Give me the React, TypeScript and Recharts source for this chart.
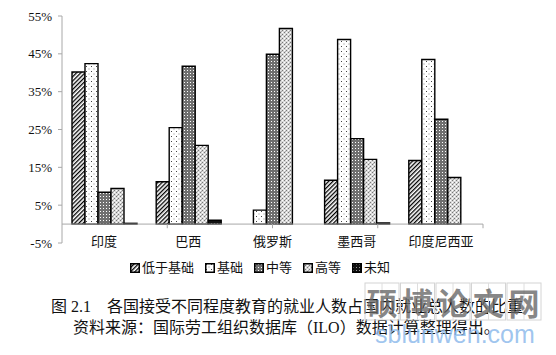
import React from 'react';
import { BarChart, Bar, XAxis, YAxis, ReferenceLine, Legend } from 'recharts';

const countries = ['印度', '巴西', '俄罗斯', '墨西哥', '印度尼西亚'];
const seriesNames = ['低于基础', '基础', '中等', '高等', '未知'];
const belowBasic = [40.2, 11.2, 0, 11.6, 16.8];
const basic = [42.4, 25.5, 3.7, 48.8, 43.5];
const secondary = [8.4, 41.7, 44.9, 22.6, 27.7];
const higher = [9.4, 20.8, 51.7, 17.1, 12.3];
const unknown = [0.2, 1.0, 0, 0.3, 0];
const yTicks = [-5, 5, 15, 25, 35, 45, 55];
const captionTitle = '图 2.1';
const captionText = '各国接受不同程度教育的就业人数占国内就业总人数的比重';
const sourceText = '资料来源：国际劳工组织数据库（ILO）数据计算整理得出。';
const watermarkChars = ['硕', '博', '论', '文', '网'];
const watermarkUrl = 'sblunwen.com';

const seriesValues = [belowBasic, basic, secondary, higher, unknown];
const keys = ['s0', 's1', 's2', 's3', 's4'];
const fills = ['url(#pHatch)', 'url(#pDots)', 'url(#pMid)', 'url(#pHigh)', 'url(#pUnk)'];

const data = countries.map((c, i) => {
  const row: any = { name: c };
  keys.forEach((k, j) => (row[k] = seriesValues[j][i]));
  return row;
});

const serif = '"Liberation Serif", "Times New Roman", "Noto Sans CJK SC", serif';
const cjk = '"Liberation Serif", "Noto Sans CJK SC", sans-serif';
const axisGray = '#a8a8a8';

const Patterns = () => (
  <svg width={0} height={0} style={{ position: 'absolute' }}>
    <defs>
      <pattern id="pHatch" width="3" height="3" patternUnits="userSpaceOnUse" patternTransform="rotate(45)">
        <rect width="3" height="3" fill="#fff" />
        <rect width="1.3" height="3" fill="#000" />
      </pattern>
      <pattern id="pDots" width="5" height="5" patternUnits="userSpaceOnUse">
        <rect width="5" height="5" fill="#fff" />
        <rect x="1" y="1" width="1" height="1" fill="#444" />
        <rect x="3.5" y="3.5" width="1" height="1" fill="#888" />
      </pattern>
      <pattern id="pMid" width="3" height="3" patternUnits="userSpaceOnUse">
        <rect width="3" height="3" fill="#6f6f6f" />
        <rect x="1" y="1" width="1" height="1" fill="#fff" />
      </pattern>
      <pattern id="pHigh" width="4" height="4" patternUnits="userSpaceOnUse">
        <rect width="4" height="4" fill="#d8d8d8" />
        <rect x="0" y="0" width="1" height="1" fill="#777" />
        <rect x="2" y="2" width="1" height="1" fill="#777" />
        <rect x="2" y="0" width="1" height="1" fill="#fff" />
        <rect x="0" y="2" width="1" height="1" fill="#fff" />
        <rect x="1" y="3" width="1" height="1" fill="#aaa" />
      </pattern>
      <pattern id="pUnk" width="3" height="3" patternUnits="userSpaceOnUse">
        <rect width="3" height="3" fill="#111" />
        <rect x="1" y="1" width="1" height="1" fill="#999" />
      </pattern>
    </defs>
  </svg>
);

const XTick = (props: any) => {
  const { x, y, payload } = props;
  return (
    <text x={x} y={y - 2} textAnchor="middle" dominantBaseline="central" fontSize={13} fontFamily={cjk} fill="#111">
      {payload.value}
    </text>
  );
};

const LegendContent = (props: any) => {
  const payload = [...(props.payload || [])].sort(
    (a: any, b: any) => seriesNames.indexOf(a.value) - seriesNames.indexOf(b.value)
  );
  return (
    <div style={{ display: 'flex', alignItems: 'center', whiteSpace: 'nowrap' }}>
      {payload.map((e: any, i: number) => (
        <div key={i} style={{ display: 'flex', alignItems: 'center', marginRight: 11 }}>
          <svg width={10} height={10} style={{ marginRight: 2 }}>
            <rect x={0.75} y={0.75} width={8.5} height={8.5} fill={e.color} stroke="#000" strokeWidth={1.5} />
          </svg>
          <span style={{ fontSize: 13, fontFamily: cjk, color: '#111', lineHeight: '14px' }}>{e.value}</span>
        </div>
      ))}
    </div>
  );
};

export default function App() {
  return (
    <div style={{ position: 'absolute', left: 0, top: 0, width: 556, height: 355, background: '#fff' }}>
      <Patterns />
      <BarChart
        width={556}
        height={280}
        data={data}
        margin={{ top: 16, right: 73, bottom: 7, left: 0 }}
        barSize={13}
        barGap={0}
      >
        <XAxis
          dataKey="name"
          height={30}
          axisLine={false}
          tickLine={false}
          tickSize={0}
          tickMargin={0}
          tick={<XTick />}
          interval={0}
        />
        <XAxis xAxisId="n" type="number" domain={[0, countries.length]} hide />
        <YAxis
          width={62}
          domain={[-5, 55]}
          ticks={yTicks}
          interval={0}
          tickFormatter={(v: number) => `${v}%`}
          axisLine={{ stroke: axisGray }}
          tickLine={{ stroke: axisGray }}
          tickSize={4}
          tickMargin={6}
          tick={{ fontSize: 13, fontFamily: serif, fill: '#111' }}
        />
        <ReferenceLine y={0} stroke={axisGray} strokeWidth={1} ifOverflow="extendDomain" />
        {countries.map((c, i) => (
          <ReferenceLine
            key={c}
            xAxisId="n"
            stroke={axisGray}
            segment={[
              { x: i + 1, y: 0 },
              { x: i + 1, y: -1.1 },
            ]}
          />
        ))}
        {keys.map((k, j) => (
          <Bar
            key={k}
            dataKey={k}
            name={seriesNames[j]}
            fill={fills[j]}
            stroke="#000"
            strokeWidth={1.4}
            isAnimationActive={false}
          />
        ))}
        <Legend
          verticalAlign="middle"
          content={<LegendContent />}
          wrapperStyle={{ top: 261, left: 130, width: 'auto' }}
        />
      </BarChart>
      <svg width={556} height={355} style={{ position: 'absolute', left: 0, top: 0, pointerEvents: 'none' }}>
        <text x={51} y={306} dominantBaseline="central" fontSize={16} fontFamily={cjk} fill="#111">
          {captionTitle}
        </text>
        <text x={107} y={306} dominantBaseline="central" fontSize={16} fontFamily={cjk} fill="#111">
          {captionText}
        </text>
        <text x={73} y={327} dominantBaseline="central" fontSize={16} fontFamily={cjk} fill="#111">
          {sourceText}
        </text>
        {watermarkChars.map((ch, i) => (
          <g key={ch}>
            <rect x={365 + i * 35.5} y={283} width={34} height={37} fill="none" stroke="#d4d4d4" strokeWidth={1} />
            <line x1={365 + i * 35.5 + 17} y1={283} x2={365 + i * 35.5 + 17} y2={320} stroke="#dedede" strokeWidth={1} />
            <text
              x={365 + i * 35.5 + 17}
              y={301}
              textAnchor="middle"
              dominantBaseline="central"
              fontSize={31}
              fontWeight={700}
              fontFamily='"Noto Sans CJK SC", sans-serif'
              fill="#666"
              fillOpacity={0.78}
            >
              {ch}
            </text>
          </g>
        ))}
        <text x={375} y={343} fontSize={25} fontFamily='"Liberation Sans", Arial, sans-serif' fill="#8fbbec" fillOpacity={0.85}>
          {watermarkUrl}
        </text>
      </svg>
    </div>
  );
}
